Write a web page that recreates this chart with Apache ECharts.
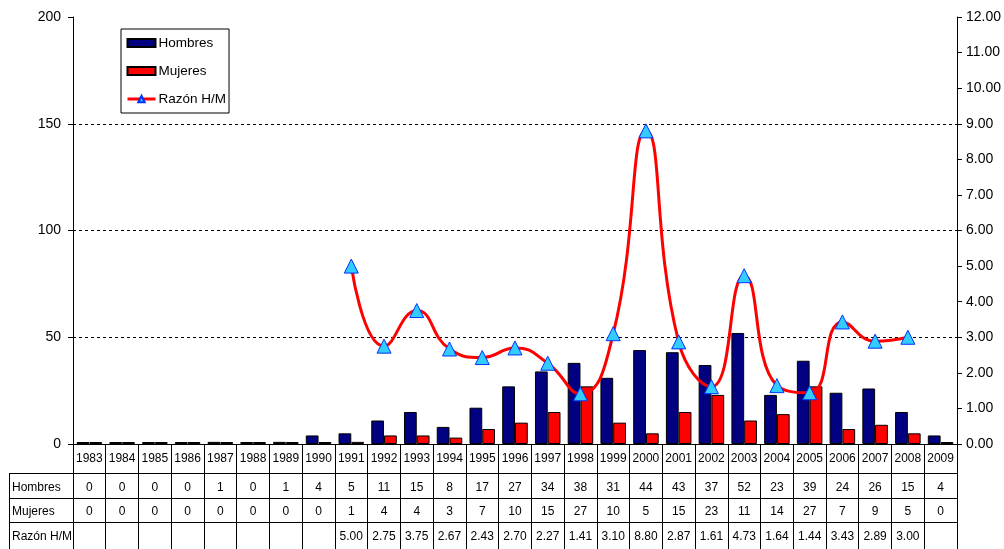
<!DOCTYPE html>
<html><head><meta charset="utf-8">
<script src="https://cdn.jsdelivr.net/npm/echarts@6/dist/echarts.min.js"></script>
<style>html,body{margin:0;padding:0;background:#fff;}#c{width:1004px;height:549px;}</style>
</head><body><div id="c"></div>
<script>
const years = ['1983','1984','1985','1986','1987','1988','1989','1990','1991','1992','1993','1994','1995','1996','1997','1998','1999','2000','2001','2002','2003','2004','2005','2006','2007','2008','2009'];
const hombres = [0,0,0,0,1,0,1,4,5,11,15,8,17,27,34,38,31,44,43,37,52,23,39,24,26,15,4];
const mujeres = [0,0,0,0,0,0,0,0,1,4,4,3,7,10,15,27,10,5,15,23,11,14,27,7,9,5,0];
const razon = [null,null,null,null,null,null,null,null,5.00,2.75,3.75,2.67,2.43,2.70,2.27,1.41,3.10,8.80,2.87,1.61,4.73,1.64,1.44,3.43,2.89,3.00,null];
const seriesNames = ['Hombres','Mujeres','Razón H/M'];

const FONT = 'Liberation Sans, Arial, sans-serif';
const chart = echarts.init(document.getElementById('c'), null, {renderer:'canvas'});

const option = {
  animation: false,
  backgroundColor: '#fff',
  textStyle: {fontFamily: FONT, color: '#000'},
  grid: {left: 73, right: 43, top: 17, bottom: 105, containLabel: false},
  legend: {
    orient: 'vertical', left: 121, top: 29,
    data: [
      {name: 'Hombres', icon: 'rect'},
      {name: 'Mujeres', icon: 'rect'},
      {name: 'Razón H/M', lineStyle: {width: 3}}
    ],
    itemWidth: 28, itemHeight: 8, itemGap: 14,
    padding: [7, 3, 7, 5],
    borderColor: '#000', borderWidth: 1, backgroundColor: '#fff',
    textStyle: {fontSize: 13.5, fontFamily: FONT, color: '#000', padding: [0,0,0,-2]}
  },
  xAxis: {
    type: 'category', data: years, boundaryGap: true,
    axisLine: {show: true, lineStyle: {color: '#000', width: 1}},
    axisTick: {show: true, interval: 0, length: 105, lineStyle: {color: '#000'}},
    axisLabel: {interval: 0, fontSize: 12, margin: 9, color: '#000', fontFamily: FONT},
    splitLine: {show: false}
  },
  yAxis: [
    {type: 'value', min: 0, max: 200, interval: 50, position: 'left',
     axisLine: {show: true, lineStyle: {color: '#000'}},
     axisTick: {show: true, length: 5, lineStyle: {color: '#000'}},
     axisLabel: {fontSize: 14, margin: 12, color: '#000', fontFamily: FONT},
     splitLine: {show: true, showMaxLine: false, showMinLine: false, lineStyle: {color: '#000', type: [3,3], width: 1}}},
    {type: 'value', min: 0, max: 12, interval: 1, position: 'right',
     axisLine: {show: true, lineStyle: {color: '#000'}},
     axisTick: {show: true, length: 5, lineStyle: {color: '#000'}},
     axisLabel: {fontSize: 14, margin: 9, color: '#000', fontFamily: FONT, formatter: v => v.toFixed(2)},
     splitLine: {show: false}}
  ],
  series: [
    {name: 'Hombres', type: 'bar', data: hombres, yAxisIndex: 0,
     barGap: '0%', barCategoryGap: '22%', barMinHeight: 2,
     itemStyle: {color: '#000080', borderColor: '#000', borderWidth: 1}},
    {name: 'Mujeres', type: 'bar', data: mujeres, yAxisIndex: 0,
     barGap: '0%', barCategoryGap: '22%', barMinHeight: 2,
     itemStyle: {color: '#FF0000', borderColor: '#000', borderWidth: 1}},
    {name: 'Razón H/M', type: 'line', data: razon, yAxisIndex: 1,
     smooth: 0.5, connectNulls: false, z: 5,
     symbol: 'triangle', symbolSize: 14,
     lineStyle: {color: '#FF0000', width: 3},
     itemStyle: {color: '#33CCFF', borderColor: '#0033FF', borderWidth: 1}}
  ]
};
chart.setOption(option);

// Build data table under the axis from the data arrays, positioned by the axis scale
const yBase = chart.convertToPixel({yAxisIndex: 0}, 0);
const c0 = chart.convertToPixel({xAxisIndex: 0}, 0);
const c1 = chart.convertToPixel({xAxisIndex: 0}, 1);
const band = c1 - c0;
const xRight = chart.convertToPixel({xAxisIndex: 0}, years.length - 1) + band / 2;
const tableLeft = 9;
const yearRowH = 29, rowH = 24.5;
const rows = [
  hombres.map(v => String(v)),
  mujeres.map(v => String(v)),
  razon.map(v => v == null ? '' : v.toFixed(2))
];
const g = [];
const px = v => Math.round(v) + 0.5;
for (let r = 0; r < 3; r++) {
  const top = yBase + yearRowH + r * rowH;
  g.push({type: 'line', silent: true, shape: {x1: tableLeft, y1: px(top), x2: xRight, y2: px(top)}, style: {stroke: '#000', lineWidth: 1}});
  const cy = top + rowH / 2 + 2;
  g.push({type: 'text', silent: true, x: tableLeft + 3, y: cy, style: {text: seriesNames[r], fill: '#000', fontSize: 12, fontFamily: FONT, align: 'left', verticalAlign: 'middle'}});
  rows[r].forEach((t, i) => {
    if (!t) return;
    const cx = chart.convertToPixel({xAxisIndex: 0}, i);
    g.push({type: 'text', silent: true, x: cx, y: cy, style: {text: t, fill: '#000', fontSize: 12, fontFamily: FONT, align: 'center', verticalAlign: 'middle'}});
  });
}
g.push({type: 'line', silent: true, shape: {x1: px(tableLeft), y1: yBase + yearRowH, x2: px(tableLeft), y2: 549}, style: {stroke: '#000', lineWidth: 1}});
g.push({type: 'line', silent: true, shape: {x1: px(c0 - band / 2), y1: yBase, x2: px(c0 - band / 2), y2: 549}, style: {stroke: '#000', lineWidth: 1}});
chart.setOption({graphic: g});
</script>
</body></html>
